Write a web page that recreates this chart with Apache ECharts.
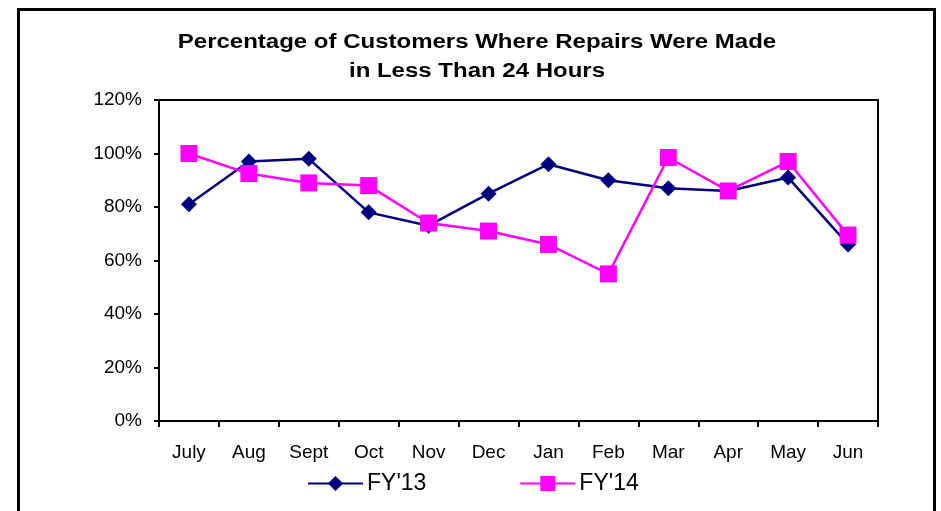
<!DOCTYPE html>
<html><head><meta charset="utf-8">
<script src="https://cdn.jsdelivr.net/npm/echarts@6/dist/echarts.min.js"></script>
<style>html,body{margin:0;padding:0;background:#fff}#c{width:941px;height:511px}</style>
</head><body><div id="c"></div>
<script>
const categories = ["July","Aug","Sept","Oct","Nov","Dec","Jan","Feb","Mar","Apr","May","Jun"];
const fy13 = [81, 97, 98, 78, 73, 85, 96, 90, 87, 86, 91, 66];
const fy14 = [100, 92.5, 89, 88, 74, 71, 66, 55, 98.5, 86, 97, 69.5];
const yTicks = [0, 20, 40, 60, 80, 100, 120];
const titleLines = ["Percentage of Customers Where Repairs Were Made", "in Less Than 24 Hours"];

const chart = echarts.init(document.getElementById('c'), null, {renderer:'canvas'});
const font = 'Liberation Sans, Arial, sans-serif';
const titleStyle = {fill: '#000', fontFamily: font, fontWeight: 'bold', fontSize: 20, textAlign: 'center', textVerticalAlign: 'middle'};
chart.setOption({
  animation: false,
  backgroundColor: '#fff',
  graphic: [
    {type: 'rect', shape: {x: 18.5, y: 9.5, width: 916, height: 520},
     style: {fill: 'none', stroke: '#000', lineWidth: 3}, silent: true},
    {type: 'text', x: 477, y: 42, scaleX: 1.2, silent: true,
     style: Object.assign({x: 0, y: 0, text: titleLines[0]}, titleStyle)},
    {type: 'text', x: 477, y: 71, scaleX: 1.2, silent: true,
     style: Object.assign({x: 0, y: 0, text: titleLines[1]}, titleStyle)}
  ],
  grid: {left: 159, right: 63, top: 100, bottom: 90, show: true, borderColor: '#000', borderWidth: 2, backgroundColor: 'transparent'},
  legend: {
    data: ["FY'13", "FY'14"], bottom: 11, left: 302, itemGap: 93,
    itemWidth: 55, itemHeight: 19,
    textStyle: {fontFamily: font, fontSize: 23, color: '#000', padding: [0,0,0,-1]}
  },
  xAxis: {
    type: 'category', data: categories, boundaryGap: true,
    axisLine: {lineStyle: {color: '#000', width: 2}},
    axisTick: {show: true, length: 6, lineStyle: {color: '#000', width: 2}},
    axisLabel: {fontFamily: font, fontSize: 19, color: '#000', margin: 22},
    splitLine: {show: false}
  },
  yAxis: {
    type: 'value', min: 0, max: 120, interval: 20,
    axisLine: {show: true, lineStyle: {color: '#000', width: 2}},
    axisTick: {show: true, length: 5, lineStyle: {color: '#000', width: 2}},
    axisLabel: {fontFamily: font, fontSize: 19, color: '#000', margin: 17,
      formatter: v => yTicks.includes(v) ? v + '%' : ''},
    splitLine: {show: false}
  },
  series: [
    {name: "FY'13", type: 'line', data: fy13, symbol: 'diamond', symbolSize: 16,
     lineStyle: {color: '#000080', width: 2.5}, itemStyle: {color: '#000080'}, z: 2},
    {name: "FY'14", type: 'line', data: fy14, symbol: 'rect', symbolSize: 17,
     lineStyle: {color: '#FF00FF', width: 2.5}, itemStyle: {color: '#FF00FF'}, z: 3}
  ]
});
</script></body></html>
